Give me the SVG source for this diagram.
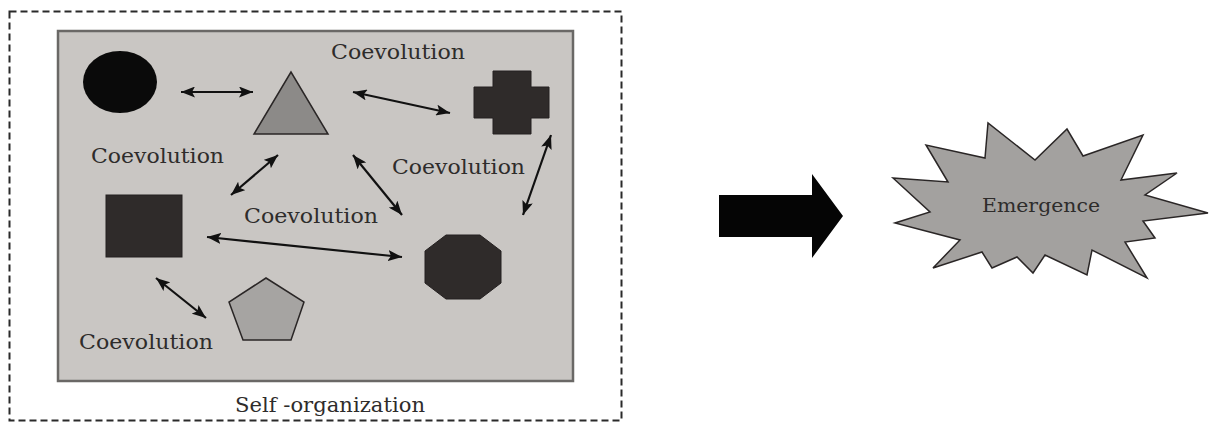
<svg xmlns="http://www.w3.org/2000/svg" width="1209" height="422" viewBox="0 0 1209 422">
<style>
.lbl{font-family:"DejaVu Serif","Liberation Serif",serif;font-size:19.5px;fill:#2e2c2b}
.dark{fill:#2f2b2a;stroke:#242020;stroke-width:1}
.conn line{stroke:#111;stroke-width:2.2;marker-start:url(#ah);marker-end:url(#ah)}
</style>
<defs>
<marker id="ah" viewBox="0 0 14 11" refX="14" refY="5.5" markerWidth="14" markerHeight="11" markerUnits="userSpaceOnUse" orient="auto-start-reverse">
<path d="M0,0 L14,5.5 L0,11 L3,5.5 z" fill="#111"/>
</marker>
</defs>
<rect width="1209" height="422" fill="#ffffff"/>
<g id="self-organization">
<rect x="9.5" y="11.5" width="612" height="409" fill="none" stroke="#2a2a2a" stroke-width="2" stroke-dasharray="7,4"/>
<rect x="58" y="31" width="515" height="350" fill="#c9c6c3" stroke="#6a6866" stroke-width="2.5"/>
<text class="lbl" x="235" y="412" textLength="190" lengthAdjust="spacingAndGlyphs">Self -organization</text>
</g>
<g id="circle"><ellipse cx="120" cy="82" rx="37" ry="31" fill="#0a0a0a"/></g>
<g id="triangle"><polygon points="291,72 254,134 328,134" fill="#8c8a88" stroke="#2a2626" stroke-width="1.5"/></g>
<g id="cross"><polygon class="dark" points="493,71 531,71 531,87 549,87 549,118 531,118 531,134 493,134 493,118 474,118 474,87 493,87"/></g>
<g id="square"><rect class="dark" x="106" y="195" width="76" height="62"/></g>
<g id="octagon"><polygon class="dark" points="446,235 480,235 501,251 501,283 480,299 446,299 425,283 425,251"/></g>
<g id="pentagon"><polygon points="266,278 304,302 291,340 243,340 229,302" fill="#a6a4a2" stroke="#2a2626" stroke-width="1.5"/></g>
<g id="labels">
<text class="lbl" x="331" y="59" textLength="134" lengthAdjust="spacingAndGlyphs">Coevolution</text>
<text class="lbl" x="91" y="163" textLength="133" lengthAdjust="spacingAndGlyphs">Coevolution</text>
<text class="lbl" x="392" y="174" textLength="133" lengthAdjust="spacingAndGlyphs">Coevolution</text>
<text class="lbl" x="244" y="223" textLength="134" lengthAdjust="spacingAndGlyphs">Coevolution</text>
<text class="lbl" x="79" y="349" textLength="134" lengthAdjust="spacingAndGlyphs">Coevolution</text>
</g>
<g id="connectors" class="conn">
<line x1="181" y1="92" x2="253" y2="92"/>
<line x1="353" y1="92" x2="450" y2="113"/>
<line x1="278" y1="155" x2="231" y2="195"/>
<line x1="353" y1="155" x2="402" y2="215"/>
<line x1="551" y1="135" x2="523" y2="215"/>
<line x1="207" y1="237" x2="402" y2="257"/>
<line x1="156" y1="278" x2="206" y2="318"/>
</g>
<g id="big-arrow"><polygon points="719,195 812,195 812,174 843,216 812,258 812,237 719,237" fill="#050505"/></g>
<g id="emergence">
<polygon points="893,178 948,182 926,145 985,158 988,123 1035,160 1067,129 1083,156 1143,135 1121,180 1177,173 1145,195 1208,213 1143,221 1155,238 1125,242 1147,278 1092,250 1087,275 1045,255 1033,273 1017,257 992,268 982,252 933,268 960,240 895,223 930,212" fill="#a3a19f" stroke="#2a2626" stroke-width="1.5" stroke-linejoin="miter"/>
<text x="982" y="212" textLength="118" lengthAdjust="spacingAndGlyphs" style="font-family:'DejaVu Serif','Liberation Serif',serif;font-size:18px;fill:#2e2c2b">Emergence</text>
</g>
</svg>
